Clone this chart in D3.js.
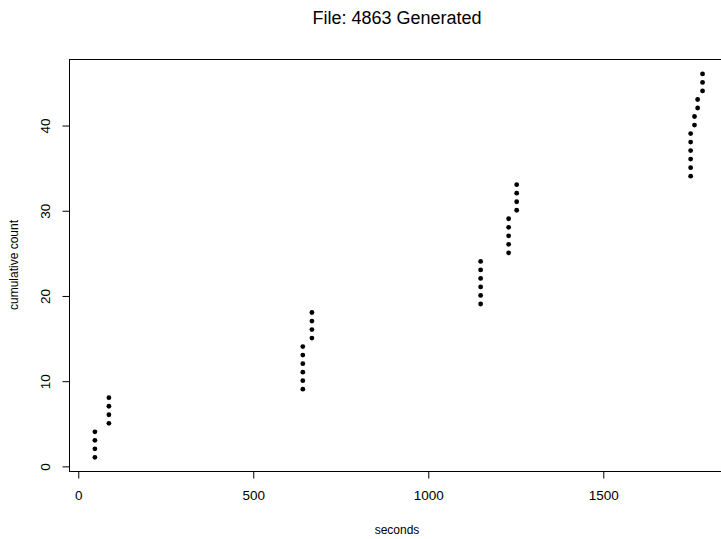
<!DOCTYPE html>
<html>
<head>
<meta charset="utf-8">
<script src="https://cdnjs.cloudflare.com/ajax/libs/d3/7.8.5/d3.min.js"></script>
<style>
  body { margin: 0; background: #fff; }
  svg { display: block; font-family: 'Liberation Sans', Arial, Helvetica, sans-serif; }
</style>
</head>
<body>
<div id="chart"></div>
<script>
// event times (seconds) and the cumulative count reached at each one
var seconds = [
  49, 49, 49, 49,
  89, 89, 89, 89,
  643, 643, 643, 643, 643, 643,
  669, 669, 669, 669,
  1151, 1151, 1151, 1151, 1151, 1151,
  1231, 1231, 1231, 1231, 1231,
  1254, 1254, 1254, 1254,
  1751, 1751, 1751, 1751, 1751, 1751,
  1762, 1762,
  1771, 1771,
  1785, 1785, 1785
];
var counts = [
  1, 2, 3, 4,
  5, 6, 7, 8,
  9, 10, 11, 12, 13, 14,
  15, 16, 17, 18,
  19, 20, 21, 22, 23, 24,
  25, 26, 27, 28, 29,
  30, 31, 32, 33,
  34, 35, 36, 37, 38, 39,
  40, 41,
  42, 43,
  44, 45, 46
];
var xTicks = [0, 500, 1000, 1500];
var yTicks = [0, 10, 20, 30, 40];
var title = 'File: 4863 Generated';

var W = 721, H = 539;
var box = {left: 69, right: 726, top: 59, bottom: 471};

var svg = d3.select('#chart')
  .append('svg')
  .attr('width', W)
  .attr('height', H);

var x = d3.scaleLinear()
  .domain([-25, 1852])
  .range([box.left, box.right]);
var y = d3.scaleLinear()
  .domain([-0.6, 47.75])
  .range([box.bottom, box.top]);

// plot frame
svg.append('rect')
  .attr('x', box.left + 0.5)
  .attr('y', box.top + 0.5)
  .attr('width', box.right - box.left)
  .attr('height', box.bottom - box.top)
  .attr('fill', 'none')
  .attr('stroke', '#000')
  .attr('stroke-width', 1);

// axes, R style: outward ticks, line only across the tick span
var xAxis = svg.append('g')
  .attr('transform', 'translate(0.5,' + (box.bottom + 0.5) + ')')
  .call(d3.axisBottom(x).tickValues(xTicks).tickFormat(d3.format('d'))
    .tickSize(7).tickPadding(12).tickSizeOuter(0));
var yAxis = svg.append('g')
  .attr('transform', 'translate(' + (box.left + 0.5) + ',0.5)')
  .call(d3.axisLeft(y).tickValues(yTicks).tickFormat(d3.format('d'))
    .tickSize(7).tickSizeOuter(0));

xAxis.select('.domain')
  .attr('d', 'M' + x(xTicks[0]) + ',0H' + x(xTicks[xTicks.length - 1]));
yAxis.select('.domain')
  .attr('d', 'M0,' + y(yTicks[0]) + 'V' + y(yTicks[yTicks.length - 1]));

svg.selectAll('.tick text')
  .attr('font-size', 13.5)
  .attr('font-family', "'Liberation Sans', Arial, sans-serif")
  .attr('fill', '#000');

// y tick labels are rotated like R's default las=0
yAxis.selectAll('.tick text')
  .attr('x', 0)
  .attr('dy', 0)
  .attr('text-anchor', 'middle')
  .attr('transform', 'translate(-20,0) rotate(-90)');

// points
svg.append('g')
  .selectAll('circle')
  .data(seconds)
  .enter()
  .append('circle')
  .attr('cx', function(d) { return x(d); })
  .attr('cy', function(d, i) { return y(counts[i]); })
  .attr('r', 2.4)
  .attr('fill', '#000');

// titles
svg.append('text')
  .attr('x', 397)
  .attr('y', 24)
  .attr('text-anchor', 'middle')
  .attr('font-size', 18)
  .text(title);
svg.append('text')
  .attr('x', 397)
  .attr('y', 534)
  .attr('text-anchor', 'middle')
  .attr('font-size', 12)
  .text('seconds');
svg.append('text')
  .attr('transform', 'translate(18,' + ((box.top + box.bottom) / 2) + ') rotate(-90)')
  .attr('text-anchor', 'middle')
  .attr('font-size', 12)
  .text('cumulative count');
</script>
</body>
</html>
